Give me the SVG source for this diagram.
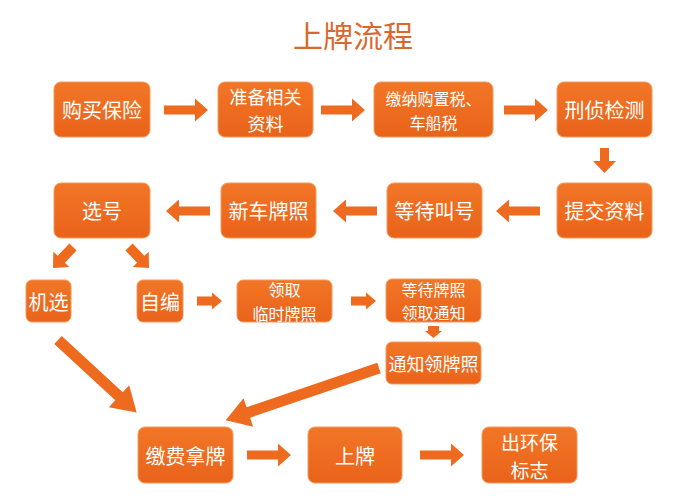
<svg xmlns="http://www.w3.org/2000/svg" xmlns:xlink="http://www.w3.org/1999/xlink" width="700" height="498" viewBox="0 0 700 498">
<style>
.box{fill:url(#g);stroke:#f39a5c;stroke-width:1}
.t{fill:#ffffff;font-family:"Noto Sans CJK SC","Noto Sans",sans-serif;text-anchor:middle;dominant-baseline:central}
.arr{fill:#ee6a1e}
.title{fill:#d8692e;font-family:"Noto Sans CJK SC","Noto Sans",sans-serif;font-size:30px;text-anchor:middle;dominant-baseline:central}
</style>
<defs>
<linearGradient id="g" x1="0" y1="0" x2="0" y2="1">
<stop offset="0" stop-color="#f27627"/>
<stop offset="1" stop-color="#e9631a"/>
</linearGradient>
<path id="aL" d="M0,-4.5 H31 V-11.5 L44,0 L31,11.5 V4.5 H0 Z"/>
<path id="aS" d="M0,-4.5 H13 V-11.5 L25,0 L13,11.5 V4.5 H0 Z"/>
<path id="aM" d="M0,-4.5 H15 V-8.5 L25,0 L15,8.5 V4.5 H0 Z"/>
<path id="aD" d="M0,-5 H17 V-11 L29,0 L17,11 V5 H0 Z"/>
</defs>
<rect width="700" height="498" fill="#ffffff"/>
<text class="title" x="353" y="34">上牌流程</text>

<g id="connectors" class="arr">
<use xlink:href="#aL" transform="translate(164,110)"/>
<use xlink:href="#aL" transform="translate(321,110)"/>
<use xlink:href="#aL" transform="translate(504,110)"/>
<use xlink:href="#aS" transform="translate(604.5,148) rotate(90)"/>
<use xlink:href="#aL" transform="translate(540,211) rotate(180)"/>
<use xlink:href="#aL" transform="translate(377,211) rotate(180)"/>
<use xlink:href="#aL" transform="translate(210,211) rotate(180)"/>
<use xlink:href="#aD" transform="translate(73,247) rotate(133.6)"/>
<use xlink:href="#aD" transform="translate(129,247) rotate(46.4)"/>
<use xlink:href="#aM" transform="translate(197,301)"/>
<use xlink:href="#aM" transform="translate(351,301)"/>
<path d="M428,326 H439 V331 H442 L433.5,338 L425,331 H428 Z"/>
<path d="M0,-5.5 H83 V-15 L107,0 L83,15 V5.5 H0 Z" transform="translate(58,340) rotate(42.7)"/>
<path d="M0,-5.5 H138 V-15 L162,0 L138,15 V5.5 H0 Z" transform="translate(379,368) rotate(161.2)"/>
<use xlink:href="#aL" transform="translate(247,455)"/>
<use xlink:href="#aL" transform="translate(420,455)"/>
</g>

<g id="n1"><rect class="box" x="54" y="82" width="96" height="55" rx="7"/><text class="t" x="102" y="109" font-size="20">购买保险</text></g>
<g id="n2"><rect class="box" x="218" y="82" width="95" height="55" rx="7"/><text class="t" font-size="18"><tspan x="265.5" y="96.4">准备相关</tspan><tspan x="265.5" y="122.6">资料</tspan></text></g>
<g id="n3"><rect class="box" x="374" y="82" width="119" height="55" rx="7"/><text class="t" font-size="16"><tspan x="433.5" y="98.3">缴纳购置税、</tspan><tspan x="433.5" y="121.7">车船税</tspan></text></g>
<g id="n4"><rect class="box" x="557" y="82" width="95" height="55" rx="7"/><text class="t" x="604.5" y="109" font-size="20">刑侦检测</text></g>
<g id="n5"><rect class="box" x="557" y="183" width="95" height="55" rx="7"/><text class="t" x="604.5" y="210" font-size="20">提交资料</text></g>
<g id="n6"><rect class="box" x="387" y="183" width="95" height="55" rx="7"/><text class="t" x="434.5" y="210" font-size="20">等待叫号</text></g>
<g id="n7"><rect class="box" x="221" y="183" width="95" height="55" rx="7"/><text class="t" x="268.5" y="210" font-size="20">新车牌照</text></g>
<g id="n8"><rect class="box" x="54" y="183" width="96" height="55" rx="7"/><text class="t" x="102" y="210" font-size="20">选号</text></g>
<g id="n9"><rect class="box" x="26" y="280" width="45" height="42" rx="6"/><text class="t" x="48.5" y="301" font-size="20">机选</text></g>
<g id="n10"><rect class="box" x="137" y="280" width="46" height="42" rx="6"/><text class="t" x="160" y="301" font-size="20">自编</text></g>
<g id="n11"><rect class="box" x="237" y="280" width="95" height="42" rx="6"/><text class="t" font-size="16"><tspan x="284.5" y="289.3">领取</tspan><tspan x="284.5" y="312.7">临时牌照</tspan></text></g>
<g id="n12"><rect class="box" x="386" y="279" width="95" height="43" rx="6"/><text class="t" font-size="16"><tspan x="433.5" y="288.8">等待牌照</tspan><tspan x="433.5" y="312.2">领取通知</tspan></text></g>
<g id="n13"><rect class="box" x="386" y="342" width="95" height="42" rx="6"/><text class="t" x="433.5" y="363" font-size="18">通知领牌照</text></g>
<g id="n14"><rect class="box" x="138" y="427" width="95" height="56" rx="7"/><text class="t" x="185.5" y="455" font-size="20">缴费拿牌</text></g>
<g id="n15"><rect class="box" x="308" y="427" width="94" height="56" rx="7"/><text class="t" x="355" y="455" font-size="20">上牌</text></g>
<g id="n16"><rect class="box" x="482" y="427" width="95" height="56" rx="7"/><text class="t" font-size="19"><tspan x="529.5" y="441.2">出环保</tspan><tspan x="529.5" y="468.8">标志</tspan></text></g>
</svg>
